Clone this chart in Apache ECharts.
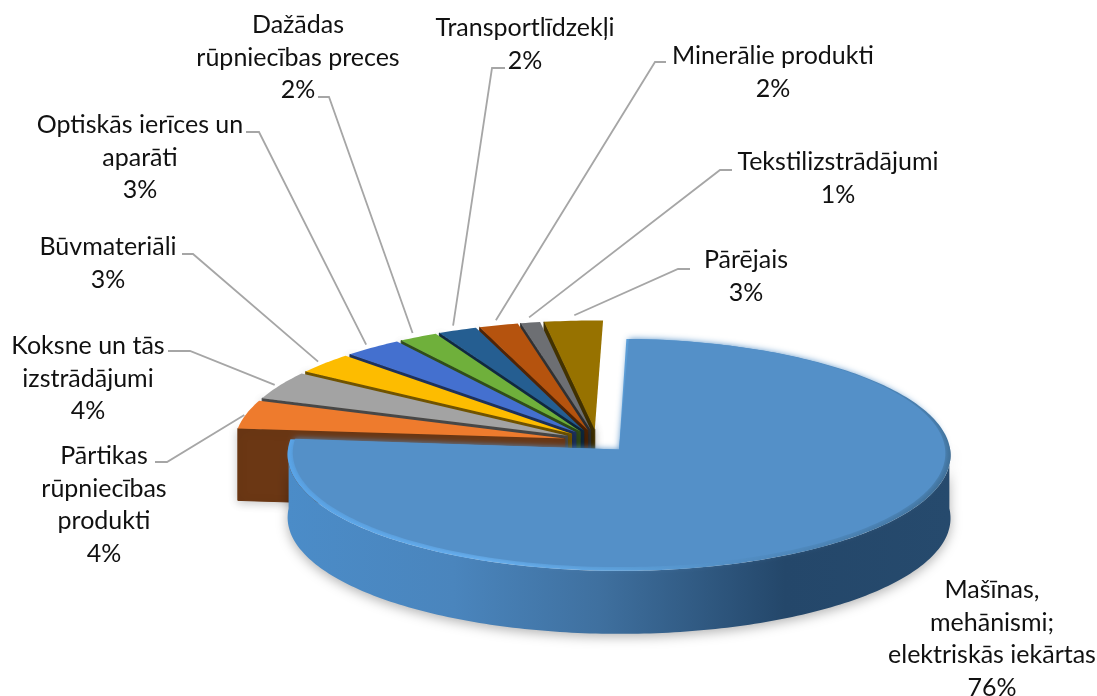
<!DOCTYPE html>
<html>
<head>
<meta charset="utf-8">
<style>
html,body{margin:0;padding:0;background:#fff}
#main{width:1097px;height:696px}
</style>
<script src="https://cdn.jsdelivr.net/npm/echarts@6/dist/echarts.min.js"></script>
</head>
<body>
<div id="main"></div>
<script>
// dati
var categories = [
    'Mašīnas,\nmehānismi;\nelektriskās iekārtas',
    'Pārtikas\nrūpniecības\nprodukti',
    'Koksne un tās\nizstrādājumi',
    'Būvmateriāli',
    'Optiskās ierīces un\naparāti',
    'Dažādas\nrūpniecības preces',
    'Transportlīdzekļi',
    'Minerālie produkti',
    'Tekstilizstrādājumi',
    'Pārējais'
];
var shares = [76, 4, 4, 3, 3, 2, 2, 2, 1, 3];
var colors = ['#5490c8', '#ee7b2d', '#a3a3a3', '#fdbc00', '#4470cf', '#6fb03b', '#255e91', '#b5530e', '#6d6f73', '#977200'];

// label centre x, first line y, leader elbow start and knee
var labelLayout = [
    [992, 590, null, null],
    [104, 456, [155, 462], [167, 462]],
    [88, 346, [168, 351], [190, 351]],
    [108, 247, [182, 254], [193, 254]],
    [140, 125, [246, 132], [259, 132]],
    [298, 25, [318, 97], [329, 97]],
    [525, 28, [505, 68], [492, 68]],
    [773, 56, [666, 62], [655, 62]],
    [838, 162, [732, 170], [720, 170]],
    [746, 260, [690, 269], [678, 269]]
];

// 3D look of the pie
var view = {cx: 597, cy: 441, sx: 330, sy: 115, persp: 0.045, explode: 0.1, rotate: 1.5};
var depths = {main: 63, rest: 72};

var total = shares.reduce(function(a, b){ return a + b; }, 0);
var startAngle = [];
var acc = view.rotate;
shares.forEach(function(v){
    startAngle.push(acc);
    acc += v / total * 360;
});

function rad(d){ return d * Math.PI / 180; }

function darken(color, k){
    var c = echarts.color.parse(color);
    return 'rgb(' + Math.round(c[0] * k) + ',' + Math.round(c[1] * k) + ',' + Math.round(c[2] * k) + ')';
}

// ground plane to screen
function project(u, v){
    var w = 1 + view.persp * v;
    return [view.cx + view.sx * u / w, view.cy - view.sy * v / w];
}
function sliceCentre(i){
    var mid = rad(startAngle[i] + shares[i] / total * 180);
    return [view.explode * Math.sin(mid), view.explode * Math.cos(mid)];
}
function rimPoint(c, r, deg, dv){
    return project(c[0] + r * Math.sin(rad(deg)), c[1] + (dv || 0) + r * Math.cos(rad(deg)));
}
function arc(c, r, a0, a1, dv){
    var pts = [];
    var n = Math.max(2, Math.ceil(Math.abs(a1 - a0)));
    for (var k = 0; k <= n; k++) {
        pts.push(rimPoint(c, r, a0 + (a1 - a0) * k / n, dv));
    }
    return pts;
}
function down(p, d){ return [p[0], p[1] + d]; }

function renderSlice(params, api){
    var i = api.value(0);
    var c = sliceCentre(i);
    var a0 = startAngle[i];
    var a1 = a0 + api.value(1) / total * 360;
    var apex = project(c[0], c[1]);
    var kids = [];
    if (i === 0) {
        // front wall of the big slice
        var front = arc(c, 1, 88, Math.min(a1, 272));
        var wall = front.concat(front.slice().reverse().map(function(p){ return down(p, depths.main); }));
        kids.push({
            type: 'polygon',
            shape: {points: wall},
            style: {
                fill: new echarts.graphic.LinearGradient(0, 0, 1, 0, [
                    {offset: 0, color: '#4b8cc8'},
                    {offset: 0.25, color: '#4a85bd'},
                    {offset: 0.47, color: '#3f709f'},
                    {offset: 0.75, color: '#24476a'},
                    {offset: 1, color: '#264a6d'}
                ]),
                shadowBlur: 12,
                shadowColor: 'rgba(0,0,0,0.3)',
                shadowOffsetY: 3
            }
        });
        // highlight on the front edge
        kids.push({
            type: 'polygon',
            shape: {points: [apex].concat(arc(c, 1, a0, a1))},
            style: {
                fill: new echarts.graphic.LinearGradient(0, 0, 1, 0, [
                    {offset: 0, color: '#5aa6ea'},
                    {offset: 0.3, color: '#6ab4f5'},
                    {offset: 0.5, color: '#5fa5e0'},
                    {offset: 0.7, color: '#4f8abf'},
                    {offset: 1, color: '#3f7099'}
                ])
            }
        });
        kids.push({
            type: 'polygon',
            shape: {points: [apex].concat(arc(c, 0.985, a0 + 0.5, a1 - 0.5, 0.015))},
            style: {fill: colors[0], shadowBlur: 6, shadowColor: colors[0]}
        });
    } else {
        // cut face of the slice shows in the gap to its neighbour
        var face = darken(colors[i], 0.45);
        var outer = rimPoint(c, 1, a0);
        kids.push({
            type: 'polygon',
            shape: {points: [apex, outer, down(outer, depths.rest), down(apex, depths.rest)]},
            style: {
                fill: face,
                stroke: face,
                lineWidth: 1,
                lineJoin: 'round',
                shadowBlur: 10,
                shadowColor: 'rgba(0,0,0,0.22)',
                shadowOffsetY: 2
            }
        });
        kids.push({
            type: 'polygon',
            shape: {points: [apex].concat(arc(c, 1, a0, a1))},
            style: {fill: colors[i]}
        });
    }
    return {type: 'group', children: kids};
}

function renderLabel(params, api){
    var i = api.value(0);
    var lay = labelLayout[i];
    var kids = [];
    if (lay[2]) {
        var mid = rad(startAngle[i] + shares[i] / total * 180);
        var end = [599 + 363 * Math.sin(mid), 442 - 127 * Math.cos(mid)];
        kids.push({
            type: 'polyline',
            shape: {points: [lay[2], lay[3], end]},
            style: {fill: null, stroke: '#a6a6a6', lineWidth: 1.8}
        });
    }
    kids.push({
        type: 'text',
        style: {
            text: categories[i] + '\n' + api.value(1) + '%',
            x: lay[0],
            y: lay[1] - 16,
            align: 'center',
            verticalAlign: 'top',
            font: '25px Lato',
            lineHeight: 32.5,
            fill: '#111'
        }
    });
    return {type: 'group', children: kids};
}

// far slices first, the big one goes on top
var drawData = shares.map(function(v, i){ return [i, v]; }).reverse();

var chart = echarts.init(document.getElementById('main'));
chart.setOption({
    backgroundColor: '#fff',
    animation: false,
    series: [
        {type: 'custom', coordinateSystem: 'none', renderItem: renderSlice, data: drawData, silent: true, z: 2},
        {type: 'custom', coordinateSystem: 'none', renderItem: renderLabel, data: drawData, silent: true, z: 3}
    ]
});
</script>
</body>
</html>
